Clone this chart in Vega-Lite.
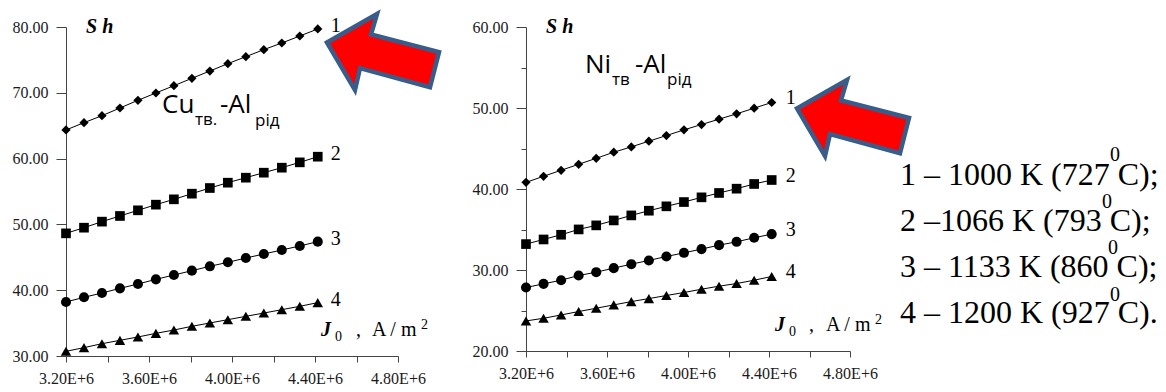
{
  "$schema": "https://vega.github.io/schema/vega-lite/v6.json",
  "background": "white",
  "padding": {"left": 12, "top": 5, "right": 0, "bottom": 0},
  "bounds": "flush",
  "spacing": 128,
  "config": {
    "view": {"stroke": null},
    "axis": {
      "labelFont": "Liberation Serif",
      "labelFontSize": 16,
      "labelColor": "#1a1a1a",
      "domainColor": "#444444",
      "tickColor": "#444444",
      "domainWidth": 1,
      "tickWidth": 1,
      "grid": false,
      "labelFlush": false,
      "labelOverlap": false
    }
  },
  "datasets": {
    "cu": [
      {"s": "1", "j": 3200000, "v": 64.35}, {"s": "1", "j": 3286700, "v": 65.46}, {"s": "1", "j": 3373300, "v": 66.52}, {"s": "1", "j": 3460000, "v": 67.69}, {"s": "1", "j": 3546700, "v": 68.86}, {"s": "1", "j": 3633300, "v": 69.97}, {"s": "1", "j": 3720000, "v": 71.08}, {"s": "1", "j": 3806700, "v": 72.2}, {"s": "1", "j": 3893300, "v": 73.31}, {"s": "1", "j": 3980000, "v": 74.43}, {"s": "1", "j": 4066700, "v": 75.49}, {"s": "1", "j": 4153300, "v": 76.56}, {"s": "1", "j": 4240000, "v": 77.57}, {"s": "1", "j": 4326700, "v": 78.63}, {"s": "1", "j": 4413300, "v": 79.7},
      {"s": "2", "j": 3200000, "v": 48.64}, {"s": "2", "j": 3286700, "v": 49.5}, {"s": "2", "j": 3373300, "v": 50.42}, {"s": "2", "j": 3460000, "v": 51.28}, {"s": "2", "j": 3546700, "v": 52.14}, {"s": "2", "j": 3633300, "v": 53.0}, {"s": "2", "j": 3720000, "v": 53.81}, {"s": "2", "j": 3806700, "v": 54.67}, {"s": "2", "j": 3893300, "v": 55.53}, {"s": "2", "j": 3980000, "v": 56.34}, {"s": "2", "j": 4066700, "v": 57.1}, {"s": "2", "j": 4153300, "v": 57.86}, {"s": "2", "j": 4240000, "v": 58.62}, {"s": "2", "j": 4326700, "v": 59.43}, {"s": "2", "j": 4413300, "v": 60.29},
      {"s": "3", "j": 3200000, "v": 38.21}, {"s": "3", "j": 3286700, "v": 38.92}, {"s": "3", "j": 3373300, "v": 39.57}, {"s": "3", "j": 3460000, "v": 40.28}, {"s": "3", "j": 3546700, "v": 40.94}, {"s": "3", "j": 3633300, "v": 41.65}, {"s": "3", "j": 3720000, "v": 42.31}, {"s": "3", "j": 3806700, "v": 42.97}, {"s": "3", "j": 3893300, "v": 43.63}, {"s": "3", "j": 3980000, "v": 44.24}, {"s": "3", "j": 4066700, "v": 44.89}, {"s": "3", "j": 4153300, "v": 45.5}, {"s": "3", "j": 4240000, "v": 46.11}, {"s": "3", "j": 4326700, "v": 46.72}, {"s": "3", "j": 4413300, "v": 47.38},
      {"s": "4", "j": 3200000, "v": 30.71}, {"s": "4", "j": 3286700, "v": 31.27}, {"s": "4", "j": 3373300, "v": 31.87}, {"s": "4", "j": 3460000, "v": 32.38}, {"s": "4", "j": 3546700, "v": 32.89}, {"s": "4", "j": 3633300, "v": 33.44}, {"s": "4", "j": 3720000, "v": 33.95}, {"s": "4", "j": 3806700, "v": 34.51}, {"s": "4", "j": 3893300, "v": 35.02}, {"s": "4", "j": 3980000, "v": 35.52}, {"s": "4", "j": 4066700, "v": 36.03}, {"s": "4", "j": 4153300, "v": 36.53}, {"s": "4", "j": 4240000, "v": 37.04}, {"s": "4", "j": 4326700, "v": 37.55}, {"s": "4", "j": 4413300, "v": 38.11}
    ],
    "ni": [
      {"s": "1", "j": 3200000, "v": 40.82}, {"s": "1", "j": 3286700, "v": 41.57}, {"s": "1", "j": 3373300, "v": 42.31}, {"s": "1", "j": 3460000, "v": 43.05}, {"s": "1", "j": 3546700, "v": 43.79}, {"s": "1", "j": 3633300, "v": 44.54}, {"s": "1", "j": 3720000, "v": 45.2}, {"s": "1", "j": 3806700, "v": 45.9}, {"s": "1", "j": 3893300, "v": 46.6}, {"s": "1", "j": 3980000, "v": 47.3}, {"s": "1", "j": 4066700, "v": 47.96}, {"s": "1", "j": 4153300, "v": 48.62}, {"s": "1", "j": 4240000, "v": 49.28}, {"s": "1", "j": 4326700, "v": 49.98}, {"s": "1", "j": 4413300, "v": 50.68},
      {"s": "2", "j": 3200000, "v": 33.2}, {"s": "2", "j": 3286700, "v": 33.77}, {"s": "2", "j": 3373300, "v": 34.35}, {"s": "2", "j": 3460000, "v": 35.01}, {"s": "2", "j": 3546700, "v": 35.51}, {"s": "2", "j": 3633300, "v": 36.12}, {"s": "2", "j": 3720000, "v": 36.74}, {"s": "2", "j": 3806700, "v": 37.32}, {"s": "2", "j": 3893300, "v": 37.86}, {"s": "2", "j": 3980000, "v": 38.39}, {"s": "2", "j": 4066700, "v": 38.97}, {"s": "2", "j": 4153300, "v": 39.51}, {"s": "2", "j": 4240000, "v": 40.04}, {"s": "2", "j": 4326700, "v": 40.62}, {"s": "2", "j": 4413300, "v": 41.11},
      {"s": "3", "j": 3200000, "v": 27.84}, {"s": "3", "j": 3286700, "v": 28.29}, {"s": "3", "j": 3373300, "v": 28.74}, {"s": "3", "j": 3460000, "v": 29.32}, {"s": "3", "j": 3546700, "v": 29.73}, {"s": "3", "j": 3633300, "v": 30.23}, {"s": "3", "j": 3720000, "v": 30.72}, {"s": "3", "j": 3806700, "v": 31.18}, {"s": "3", "j": 3893300, "v": 31.67}, {"s": "3", "j": 3980000, "v": 32.12}, {"s": "3", "j": 4066700, "v": 32.58}, {"s": "3", "j": 4153300, "v": 33.07}, {"s": "3", "j": 4240000, "v": 33.48}, {"s": "3", "j": 4326700, "v": 33.98}, {"s": "3", "j": 4413300, "v": 34.43},
      {"s": "4", "j": 3200000, "v": 23.71}, {"s": "4", "j": 3286700, "v": 24.04}, {"s": "4", "j": 3373300, "v": 24.45}, {"s": "4", "j": 3460000, "v": 24.87}, {"s": "4", "j": 3546700, "v": 25.28}, {"s": "4", "j": 3633300, "v": 25.69}, {"s": "4", "j": 3720000, "v": 26.1}, {"s": "4", "j": 3806700, "v": 26.47}, {"s": "4", "j": 3893300, "v": 26.85}, {"s": "4", "j": 3980000, "v": 27.22}, {"s": "4", "j": 4066700, "v": 27.63}, {"s": "4", "j": 4153300, "v": 28.0}, {"s": "4", "j": 4240000, "v": 28.33}, {"s": "4", "j": 4326700, "v": 28.74}, {"s": "4", "j": 4413300, "v": 29.2}
    ]
  },
  "hconcat": [
    {
      "width": 332,
      "height": 329,
      "layer": [
        {
          "data": {"name": "cu"},
          "encoding": {
            "x": {
              "field": "j", "type": "quantitative",
              "scale": {"domain": [3200000, 4800000], "nice": false, "zero": false},
              "axis": {
                "title": null,
                "values": [3200000, 3400000, 3600000, 3800000, 4000000, 4200000, 4400000, 4600000, 4800000],
                "labelExpr": "round(datum.value / 100000) % 4 == 0 ? format(datum.value / 1000000, '.2f') + 'E+6' : ''",
                "labelFont": "Liberation Serif", "labelFontSize": 16,
                "tickSize": 6,
                "labelPadding": 8
              }
            },
            "y": {
              "field": "v", "type": "quantitative",
              "scale": {"domain": [30, 80], "nice": false, "zero": false},
              "axis": {
                "title": null,
                "values": [30, 35, 40, 45, 50, 55, 60, 65, 70, 75, 80],
                "labelExpr": "datum.value % 10 == 0 ? format(datum.value, '.2f') : ''",
                "labelFont": "Liberation Serif", "labelFontSize": 16,
                "tickSize": {"condition": {"test": "datum.value % 10 == 0", "value": 10}, "value": 5},
                "labelPadding": 8
              }
            }
          },
          "layer": [
            {"mark": {"type": "line", "color": "black", "strokeWidth": 1}, "encoding": {"detail": {"field": "s"}}},
            {
              "mark": {"type": "point", "filled": true, "color": "black", "opacity": 1},
              "encoding": {
                "shape": {"field": "s", "type": "nominal", "scale": {"domain": ["1", "2", "3", "4"], "range": ["diamond", "square", "circle", "triangle-up"]}, "legend": null},
                "size": {"field": "s", "type": "nominal", "scale": {"domain": ["1", "2", "3", "4"], "range": [85, 110, 85, 90]}, "legend": null}
              }
            },
            {
              "transform": [{"filter": "datum.j > 4400000"}],
              "mark": {"type": "text", "font": "Liberation Serif", "fontSize": 20, "align": "left", "baseline": "middle", "dx": 13, "dy": -3, "color": "black"},
              "encoding": {"text": {"field": "s"}}
            }
          ]
        },
        {
          "data": {"values": [{}]},
          "mark": {"type": "text", "text": "S h", "font": "Liberation Serif", "fontSize": 20, "fontWeight": "bold", "fontStyle": "italic", "align": "left", "baseline": "alphabetic", "color": "black"},
          "encoding": {"x": {"datum": 3296400, "type": "quantitative"}, "y": {"datum": 79.09, "type": "quantitative"}}
        },
        {
          "data": {"values": [{}]},
          "mark": {"type": "text", "text": "Cu", "font": "Open Sans", "fontSize": 26, "align": "left", "baseline": "alphabetic", "color": "black"},
          "encoding": {"x": {"datum": 3662650, "type": "quantitative"}, "y": {"datum": 66.93, "type": "quantitative"}}
        },
        {
          "data": {"values": [{}]},
          "mark": {"type": "text", "text": "тв.", "font": "Open Sans", "fontSize": 17, "align": "left", "baseline": "alphabetic", "dx": 33, "dy": 12, "color": "black"},
          "encoding": {"x": {"datum": 3662650, "type": "quantitative"}, "y": {"datum": 66.93, "type": "quantitative"}}
        },
        {
          "data": {"values": [{}]},
          "mark": {"type": "text", "text": "-Al", "font": "Open Sans", "fontSize": 26, "align": "left", "baseline": "alphabetic", "dx": 58, "color": "black"},
          "encoding": {"x": {"datum": 3662650, "type": "quantitative"}, "y": {"datum": 66.93, "type": "quantitative"}}
        },
        {
          "data": {"values": [{}]},
          "mark": {"type": "text", "text": "рід", "font": "Open Sans", "fontSize": 17, "align": "left", "baseline": "alphabetic", "dx": 93, "dy": 13, "color": "black"},
          "encoding": {"x": {"datum": 3662650, "type": "quantitative"}, "y": {"datum": 66.93, "type": "quantitative"}}
        },
        {
          "data": {"values": [{}]},
          "mark": {"type": "text", "text": "J", "font": "Liberation Serif", "fontSize": 20, "fontWeight": "bold", "fontStyle": "italic", "align": "left", "baseline": "alphabetic", "color": "black"},
          "encoding": {"x": {"datum": 4428900, "type": "quantitative"}, "y": {"datum": 33.04, "type": "quantitative"}}
        },
        {
          "data": {"values": [{}]},
          "mark": {"type": "text", "text": "0", "font": "Liberation Serif", "fontSize": 14, "align": "left", "baseline": "alphabetic", "dx": 14, "dy": 5, "color": "black"},
          "encoding": {"x": {"datum": 4428900, "type": "quantitative"}, "y": {"datum": 33.04, "type": "quantitative"}}
        },
        {
          "data": {"values": [{}]},
          "mark": {"type": "text", "text": ",", "font": "Liberation Serif", "fontSize": 20, "align": "left", "baseline": "alphabetic", "dx": 35, "color": "black"},
          "encoding": {"x": {"datum": 4428900, "type": "quantitative"}, "y": {"datum": 33.04, "type": "quantitative"}}
        },
        {
          "data": {"values": [{}]},
          "mark": {"type": "text", "text": "A / m", "font": "Liberation Serif", "fontSize": 20, "align": "left", "baseline": "alphabetic", "dx": 51, "color": "black"},
          "encoding": {"x": {"datum": 4428900, "type": "quantitative"}, "y": {"datum": 33.04, "type": "quantitative"}}
        },
        {
          "data": {"values": [{}]},
          "mark": {"type": "text", "text": "2", "font": "Liberation Serif", "fontSize": 14, "align": "left", "baseline": "alphabetic", "dx": 100, "dy": -7, "color": "black"},
          "encoding": {"x": {"datum": 4428900, "type": "quantitative"}, "y": {"datum": 33.04, "type": "quantitative"}}
        },
        {
          "data": {"values": [{}]},
          "mark": {"type": "point", "shape": "M-1,-0.17L-0.107,-0.678L-0.214,-0.314L1,0L0.839,0.628L-0.411,0.289L-0.5,0.678Z", "filled": true, "fill": "#ff0000", "stroke": "#385d8a", "strokeWidth": 4.5, "strokeJoin": "miter", "size": 12544, "opacity": 1},
          "encoding": {"x": {"datum": 4727700, "type": "quantitative"}, "y": {"datum": 76.2, "type": "quantitative"}}
        }
      ]
    },
    {
      "width": 324,
      "height": 324,
      "layer": [
        {
          "data": {"name": "ni"},
          "encoding": {
            "x": {
              "field": "j", "type": "quantitative",
              "scale": {"domain": [3200000, 4800000], "nice": false, "zero": false},
              "axis": {
                "title": null,
                "values": [3200000, 3400000, 3600000, 3800000, 4000000, 4200000, 4400000, 4600000, 4800000],
                "labelExpr": "round(datum.value / 100000) % 4 == 0 ? format(datum.value / 1000000, '.2f') + 'E+6' : ''",
                "labelFont": "Liberation Serif", "labelFontSize": 16,
                "tickSize": 6,
                "labelPadding": 8
              }
            },
            "y": {
              "field": "v", "type": "quantitative",
              "scale": {"domain": [20, 60], "nice": false, "zero": false},
              "axis": {
                "title": null,
                "values": [20, 25, 30, 35, 40, 45, 50, 55, 60],
                "labelExpr": "datum.value % 10 == 0 ? format(datum.value, '.2f') : ''",
                "labelFont": "Liberation Serif", "labelFontSize": 16,
                "tickSize": {"condition": {"test": "datum.value % 10 == 0", "value": 10}, "value": 5},
                "labelPadding": 8
              }
            }
          },
          "layer": [
            {"mark": {"type": "line", "color": "black", "strokeWidth": 1}, "encoding": {"detail": {"field": "s"}}},
            {
              "mark": {"type": "point", "filled": true, "color": "black", "opacity": 1},
              "encoding": {
                "shape": {"field": "s", "type": "nominal", "scale": {"domain": ["1", "2", "3", "4"], "range": ["diamond", "square", "circle", "triangle-up"]}, "legend": null},
                "size": {"field": "s", "type": "nominal", "scale": {"domain": ["1", "2", "3", "4"], "range": [85, 120, 90, 90]}, "legend": null}
              }
            },
            {
              "transform": [{"filter": "datum.j > 4400000"}],
              "mark": {"type": "text", "font": "Liberation Serif", "fontSize": 20, "align": "left", "baseline": "middle", "dx": 14, "dy": -4, "color": "black"},
              "encoding": {"text": {"field": "s"}}
            }
          ]
        },
        {
          "data": {"values": [{}]},
          "mark": {"type": "text", "text": "S h", "font": "Liberation Serif", "fontSize": 20, "fontWeight": "bold", "fontStyle": "italic", "align": "left", "baseline": "alphabetic", "color": "black"},
          "encoding": {"x": {"datum": 3298800, "type": "quantitative"}, "y": {"datum": 59.26, "type": "quantitative"}}
        },
        {
          "data": {"values": [{}]},
          "mark": {"type": "text", "text": "Ni", "font": "Open Sans", "fontSize": 26, "align": "left", "baseline": "alphabetic", "color": "black"},
          "encoding": {"x": {"datum": 3491360, "type": "quantitative"}, "y": {"datum": 54.32, "type": "quantitative"}}
        },
        {
          "data": {"values": [{}]},
          "mark": {"type": "text", "text": "тв", "font": "Open Sans", "fontSize": 17, "align": "left", "baseline": "alphabetic", "dx": 27, "dy": 12, "color": "black"},
          "encoding": {"x": {"datum": 3491360, "type": "quantitative"}, "y": {"datum": 54.32, "type": "quantitative"}}
        },
        {
          "data": {"values": [{}]},
          "mark": {"type": "text", "text": "-Al", "font": "Open Sans", "fontSize": 26, "align": "left", "baseline": "alphabetic", "dx": 50, "color": "black"},
          "encoding": {"x": {"datum": 3491360, "type": "quantitative"}, "y": {"datum": 54.32, "type": "quantitative"}}
        },
        {
          "data": {"values": [{}]},
          "mark": {"type": "text", "text": "рід", "font": "Open Sans", "fontSize": 17, "align": "left", "baseline": "alphabetic", "dx": 82, "dy": 12, "color": "black"},
          "encoding": {"x": {"datum": 3491360, "type": "quantitative"}, "y": {"datum": 54.32, "type": "quantitative"}}
        },
        {
          "data": {"values": [{}]},
          "mark": {"type": "text", "text": "J", "font": "Liberation Serif", "fontSize": 20, "fontWeight": "bold", "fontStyle": "italic", "align": "left", "baseline": "alphabetic", "color": "black"},
          "encoding": {"x": {"datum": 4429600, "type": "quantitative"}, "y": {"datum": 22.47, "type": "quantitative"}}
        },
        {
          "data": {"values": [{}]},
          "mark": {"type": "text", "text": "0", "font": "Liberation Serif", "fontSize": 14, "align": "left", "baseline": "alphabetic", "dx": 14, "dy": 5, "color": "black"},
          "encoding": {"x": {"datum": 4429600, "type": "quantitative"}, "y": {"datum": 22.47, "type": "quantitative"}}
        },
        {
          "data": {"values": [{}]},
          "mark": {"type": "text", "text": ",", "font": "Liberation Serif", "fontSize": 20, "align": "left", "baseline": "alphabetic", "dx": 34, "color": "black"},
          "encoding": {"x": {"datum": 4429600, "type": "quantitative"}, "y": {"datum": 22.47, "type": "quantitative"}}
        },
        {
          "data": {"values": [{}]},
          "mark": {"type": "text", "text": "A / m", "font": "Liberation Serif", "fontSize": 20, "align": "left", "baseline": "alphabetic", "dx": 51, "color": "black"},
          "encoding": {"x": {"datum": 4429600, "type": "quantitative"}, "y": {"datum": 22.47, "type": "quantitative"}}
        },
        {
          "data": {"values": [{}]},
          "mark": {"type": "text", "text": "2", "font": "Liberation Serif", "fontSize": 14, "align": "left", "baseline": "alphabetic", "dx": 100, "dy": -7, "color": "black"},
          "encoding": {"x": {"datum": 4429600, "type": "quantitative"}, "y": {"datum": 22.47, "type": "quantitative"}}
        },
        {
          "data": {"values": [{}]},
          "mark": {"type": "point", "shape": "M-1,-0.17L-0.107,-0.678L-0.214,-0.314L1,0L0.839,0.628L-0.411,0.289L-0.5,0.678Z", "filled": true, "fill": "#ff0000", "stroke": "#385d8a", "strokeWidth": 4.5, "strokeJoin": "miter", "size": 12544, "opacity": 1},
          "encoding": {"x": {"datum": 4814800, "type": "quantitative"}, "y": {"datum": 48.77, "type": "quantitative"}}
        },
        {
          "data": {"values": [{}]},
          "mark": {"type": "text", "text": ["1 – 1000 K (727 C);", "2 –1066 K (793 C);", "3 – 1133 K (860 C);", "4 – 1200 K (927 C)."], "lineHeight": 46, "font": "Liberation Serif", "fontSize": 32, "align": "left", "baseline": "alphabetic", "color": "black"},
          "encoding": {"x": {"datum": 5046900, "type": "quantitative"}, "y": {"datum": 40.49, "type": "quantitative"}}
        },
        {
          "data": {"values": [{}]},
          "mark": {"type": "text", "text": "0", "font": "Liberation Serif", "fontSize": 20, "align": "center", "baseline": "alphabetic", "color": "black"},
          "encoding": {"x": {"datum": 6108700, "type": "quantitative"}, "y": {"datum": 43.4, "type": "quantitative"}}
        },
        {
          "data": {"values": [{}]},
          "mark": {"type": "text", "text": "0", "font": "Liberation Serif", "fontSize": 20, "align": "center", "baseline": "alphabetic", "color": "black"},
          "encoding": {"x": {"datum": 6069150, "type": "quantitative"}, "y": {"datum": 37.6, "type": "quantitative"}}
        },
        {
          "data": {"values": [{}]},
          "mark": {"type": "text", "text": "0", "font": "Liberation Serif", "fontSize": 20, "align": "center", "baseline": "alphabetic", "color": "black"},
          "encoding": {"x": {"datum": 6098800, "type": "quantitative"}, "y": {"datum": 32.0, "type": "quantitative"}}
        },
        {
          "data": {"values": [{}]},
          "mark": {"type": "text", "text": "0", "font": "Liberation Serif", "fontSize": 20, "align": "center", "baseline": "alphabetic", "color": "black"},
          "encoding": {"x": {"datum": 6108700, "type": "quantitative"}, "y": {"datum": 26.2, "type": "quantitative"}}
        }
      ]
    }
  ]
}
